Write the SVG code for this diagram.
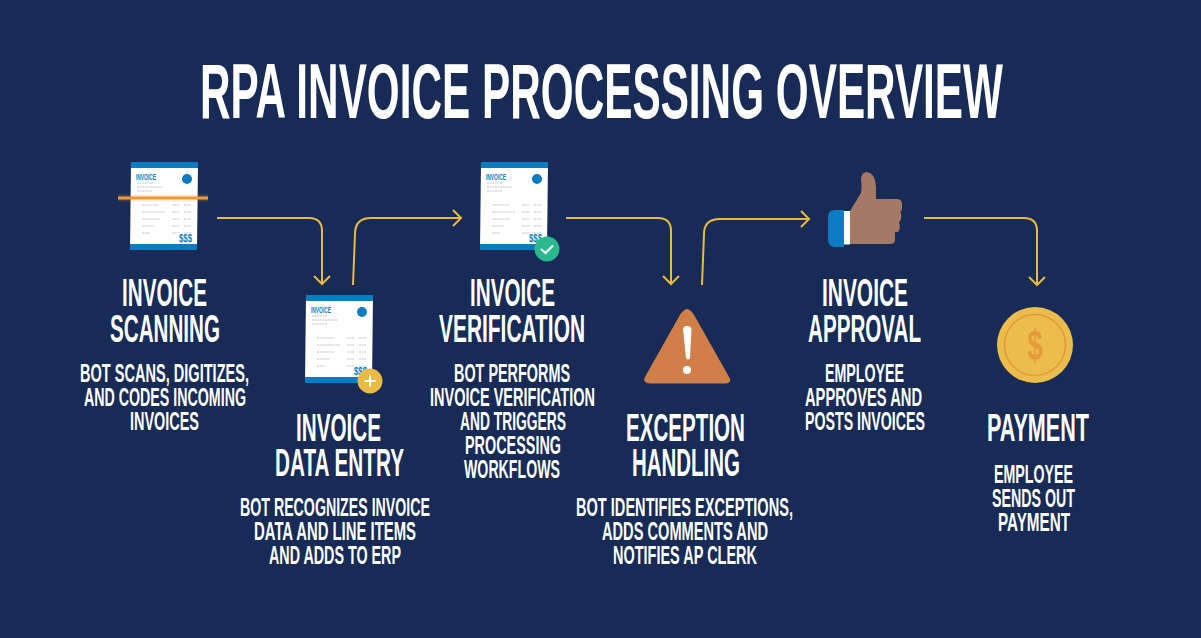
<svg xmlns="http://www.w3.org/2000/svg" width="1201" height="638" viewBox="0 0 1201 638">
<style>
text{font-family:"Liberation Sans Narrow","Liberation Sans",Arial,sans-serif;fill:#fff;font-weight:bold}
.t{font-size:60px}
.h{font-size:38px}
.b{font-size:25.5px}
.c{fill:none;stroke:#ebb840;stroke-width:2;stroke-linejoin:round;marker-end:url(#a)}
.g{stroke:#c4c5c2;stroke-width:1;stroke-dasharray:2 .6;fill:none}
.bl{fill:#0b7cc1}
</style>
<defs>
<pattern id="dots" width="10" height="10" patternUnits="userSpaceOnUse"><circle cx="2" cy="2" r=".6" fill="#2a4070"/><circle cx="7" cy="7" r=".6" fill="#2a4070"/></pattern>
<marker id="a" markerUnits="userSpaceOnUse" markerWidth="20" markerHeight="20" refX="15" refY="10" orient="auto"><path d="M7 2 L15 10 L7 18" fill="none" stroke="#ebb840" stroke-width="2"/></marker>
<g id="doc">
<path d="M1 0H68L67 87L0 88Z" fill="#fff"/>
<path d="M1 0H68V6H1ZM0 82H67V88H0Z" class="bl"/>
<text x="6" y="18" font-size="8.5" textLength="20" lengthAdjust="spacingAndGlyphs" style="fill:#0b7cc1">INVOICE</text>
<circle cx="57" cy="17" r="5" class="bl"/>
<path class="g" d="M7 21H23M7 25H33M7 29H22M12 43H29M42 43H49M54 43H61M12 50H35M42 50H49M54 50H61M12 57H30M42 57H49M54 57H61M12 64H25M42 64H49M54 64H61M12 71H20M42 71H49M54 71H61"/>
<text x="49" y="80" font-size="10.5" textLength="13" lengthAdjust="spacingAndGlyphs" style="fill:#0b7cc1">$$$</text>
</g>
</defs>
<rect width="1201" height="638" fill="#172b56"/>
<rect width="1201" height="638" fill="url(#dots)" opacity=".35"/>
<text id="title" class="t" transform="translate(200 118) scale(1 1.3)" x="0" y="0" textLength="803" lengthAdjust="spacingAndGlyphs">RPA INVOICE PROCESSING OVERVIEW</text>
<g id="connectors">
<path class="c" d="M217 218H309Q322 218 322 231V284"/>
<path class="c" d="M353 285L355 234Q355 218 371 218H461"/>
<path class="c" d="M566 218H658Q671 218 671 231V284"/>
<path class="c" d="M702 285L704 234Q704 219 720 219H809"/>
<path class="c" d="M924 218H1024Q1037 218 1037 231V285"/>
</g>
<g id="node-scanning">
<use href="#doc" x="130" y="162"/>
<path d="M118 198H208" stroke="#f29a2e" stroke-width="7" opacity=".18"/>
<path d="M118 198H208" stroke="#f29a2e" stroke-width="3"/>
<text class="h" x="122" y="306" textLength="85" lengthAdjust="spacingAndGlyphs">INVOICE</text>
<text class="h" x="110" y="342" textLength="110" lengthAdjust="spacingAndGlyphs">SCANNING</text>
<text class="b" x="80" y="382" textLength="169" lengthAdjust="spacingAndGlyphs">BOT SCANS, DIGITIZES,</text>
<text class="b" x="84" y="406" textLength="162" lengthAdjust="spacingAndGlyphs">AND CODES INCOMING</text>
<text class="b" x="130" y="430" textLength="69" lengthAdjust="spacingAndGlyphs">INVOICES</text>
</g>
<g id="node-data-entry">
<use href="#doc" x="305" y="295"/>
<circle cx="370" cy="381" r="12.5" fill="#ebb945"/>
<path d="M370 375.500V386.500M364.500 381H375.500" stroke="#fff" stroke-width="2"/>
<text class="h" x="296" y="441" textLength="85" lengthAdjust="spacingAndGlyphs">INVOICE</text>
<text class="h" x="275" y="476" textLength="129" lengthAdjust="spacingAndGlyphs">DATA ENTRY</text>
<text class="b" x="240" y="516" textLength="190" lengthAdjust="spacingAndGlyphs">BOT RECOGNIZES INVOICE</text>
<text class="b" x="254" y="540" textLength="162" lengthAdjust="spacingAndGlyphs">DATA AND LINE ITEMS</text>
<text class="b" x="269" y="564" textLength="132" lengthAdjust="spacingAndGlyphs">AND ADDS TO ERP</text>
</g>
<g id="node-verification">
<use href="#doc" x="480" y="162"/>
<circle cx="547" cy="249" r="12.500" fill="#2bb88c"/>
<path d="M541 249L545.500 253L553 245.500" fill="none" stroke="#fff" stroke-width="2.200"/>
<text class="h" x="470" y="306" textLength="85" lengthAdjust="spacingAndGlyphs">INVOICE</text>
<text class="h" x="439" y="342" textLength="146" lengthAdjust="spacingAndGlyphs">VERIFICATION</text>
<text class="b" x="454" y="382" textLength="116" lengthAdjust="spacingAndGlyphs">BOT PERFORMS</text>
<text class="b" x="430" y="406" textLength="165" lengthAdjust="spacingAndGlyphs">INVOICE VERIFICATION</text>
<text class="b" x="460" y="430" textLength="106" lengthAdjust="spacingAndGlyphs">AND TRIGGERS</text>
<text class="b" x="465" y="454" textLength="96" lengthAdjust="spacingAndGlyphs">PROCESSING</text>
<text class="b" x="464" y="478" textLength="96" lengthAdjust="spacingAndGlyphs">WORKFLOWS</text>
</g>
<g id="node-exception">
<path d="M693 314L728 376Q733 383 725 383H650Q642 383 646 376L681 314Q687 305 693 314Z" fill="#d17f48" stroke="#d17f48" stroke-width="1"/>
<path d="M687 326Q691 326 691.500 329L690 358Q688 361 686 358L683 329Q683.500 326 687 326Z" fill="#fff"/>
<circle cx="687" cy="370" r="4" fill="#fff"/>
<text class="h" x="626" y="441" textLength="119" lengthAdjust="spacingAndGlyphs">EXCEPTION</text>
<text class="h" x="632" y="476" textLength="108" lengthAdjust="spacingAndGlyphs">HANDLING</text>
<text class="b" x="576" y="516" textLength="217" lengthAdjust="spacingAndGlyphs">BOT IDENTIFIES EXCEPTIONS,</text>
<text class="b" x="602" y="540" textLength="166" lengthAdjust="spacingAndGlyphs">ADDS COMMENTS AND</text>
<text class="b" x="613" y="564" textLength="144" lengthAdjust="spacingAndGlyphs">NOTIFIES AP CLERK</text>
</g>
<g id="node-approval">
<path d="M844 210H835Q828 210 828 217V240Q828 247 835 247H844Z" class="bl"/>
<rect x="844" y="211" width="6" height="33.500" fill="#fff"/>
<path d="M850 211L861 193Q862 188 861 178Q862 172 867 172Q875 173 876 186V199H898Q902 200 902 204V208Q902 211 900 212Q902 214 901 219Q900 222 899 222Q901 228 898 232H895V240Q895 244 890 244H850Z" fill="#a57a65"/>
<text class="h" x="822" y="306" textLength="86" lengthAdjust="spacingAndGlyphs">INVOICE</text>
<text class="h" x="808" y="342" textLength="113" lengthAdjust="spacingAndGlyphs">APPROVAL</text>
<text class="b" x="825" y="382" textLength="79" lengthAdjust="spacingAndGlyphs">EMPLOYEE</text>
<text class="b" x="805" y="406" textLength="117" lengthAdjust="spacingAndGlyphs">APPROVES AND</text>
<text class="b" x="805" y="430" textLength="120" lengthAdjust="spacingAndGlyphs">POSTS INVOICES</text>
</g>
<g id="node-payment">
<circle cx="1035" cy="345" r="38" fill="#ecbc4c"/>
<circle cx="1035" cy="345" r="30.500" fill="none" stroke="#e59a3a" stroke-width="1.500"/>
<text x="1035" y="360" font-size="42" text-anchor="middle" textLength="15" lengthAdjust="spacingAndGlyphs" style="fill:#e59a3a">$</text>
<text class="h" x="987" y="441" textLength="102" lengthAdjust="spacingAndGlyphs">PAYMENT</text>
<text class="b" x="994" y="483" textLength="79" lengthAdjust="spacingAndGlyphs">EMPLOYEE</text>
<text class="b" x="992" y="507" textLength="83" lengthAdjust="spacingAndGlyphs">SENDS OUT</text>
<text class="b" x="998" y="531" textLength="72" lengthAdjust="spacingAndGlyphs">PAYMENT</text>
</g>
</svg>
